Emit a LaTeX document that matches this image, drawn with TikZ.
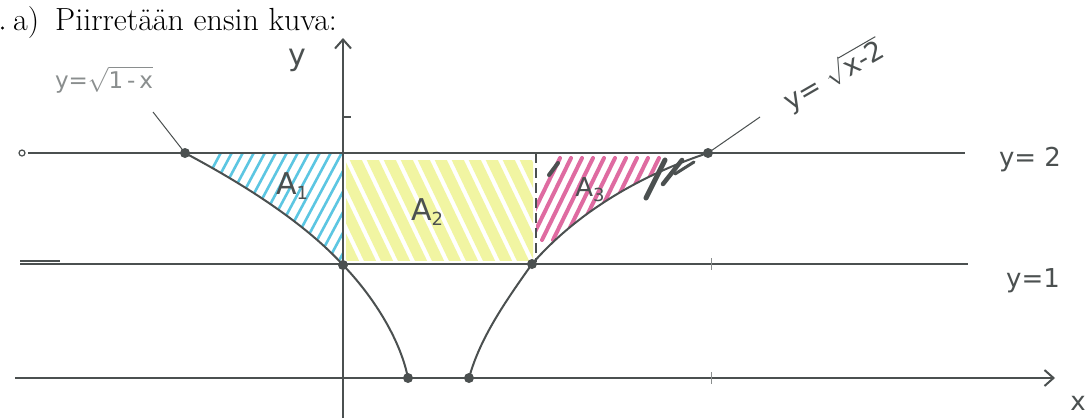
\documentclass[tikz,border=0pt]{standalone}
\usepackage{fontspec}
\newfontfamily\hand{DejaVu Sans}
\usetikzlibrary{arrows.meta}
\definecolor{pen}{HTML}{4B5050}
\definecolor{penlight}{HTML}{8A8E8E}
\definecolor{hcyan}{HTML}{5CC6E2}
\definecolor{hyellow}{HTML}{E4ED46}
\definecolor{hmag}{HTML}{D8468A}
\newcommand{\sub}[1]{\raisebox{-5pt}{\fontsize{18}{20}\selectfont #1}}
\begin{document}
\begin{tikzpicture}[x=1pt,y=-1pt,
  pline/.style={draw=pen,line width=2pt},
  thin line/.style={draw=pen,line width=1.2pt},
  dot/.style={circle,fill=pen,inner sep=0pt,minimum size=10pt},
  handlbl/.style={text=pen,font=\hand\fontsize{26}{28}\selectfont,inner sep=0pt},
  hatch/.style={line cap=round}]
\useasboundingbox (0,0) rectangle (1092,418);
\fill[white] (0,0) rectangle (1092,418);

% title
\node[anchor=base west,inner sep=0pt,font=\fontsize{32}{36}\selectfont] (title) at (13,30) {a)\enspace Piirretään ensin kuva:};
\fill[black] (2.5,28) circle (1.6pt);

% points
\coordinate (pA) at (185,153);
\coordinate (pB) at (343,265);
\coordinate (pC) at (408,378);
\coordinate (pD) at (469,378);
\coordinate (pE) at (532,264);
\coordinate (pF) at (708,153);

% hatching A1 (cyan)
\begin{scope}
\clip (pA) .. controls (232,178) and (300,218) .. (pB) -- (343,153) -- cycle;
\foreach \i in {0,...,22} {
  \draw[hatch,hcyan,line width=2.6pt] (150+\i*11,285) -- ++(75,-140);
}
\end{scope}

% hatching A2 (yellow)
\begin{scope}
\clip (346,160) rectangle (533,260);
\foreach \i in {0,...,14} {
  \draw[hatch,hyellow,opacity=0.5,line width=11pt] (300+\i*17,150) -- ++(55,115);
}
\end{scope}

% hatching A3 (magenta)
\begin{scope}
\clip (pE) .. controls (572,218) and (632,178) .. (pF) -- (536,153) -- (536,262) -- cycle;
\foreach \i in {0,...,9} {
  \draw[hatch,hmag,line width=4pt,opacity=0.8] (520+\i*11,240) -- ++(40,-82);
}
\end{scope}
% black strokes
\draw[hatch,pen,line width=4pt] (549,175) -- (558,163);
\draw[hatch,pen,line width=5pt] (646,198) -- (665,160);
\draw[hatch,pen,line width=4.5pt] (663,184) -- (682,160);
\draw[hatch,pen,line width=3pt] (675,174) -- (694,162);

% horizontal lines
\draw[pline] (28,153) -- (965,153);
\draw[pen,line width=1.2pt] (22,153) circle (3pt);
\draw[pline] (20,264) -- (968,264);
\draw[pen,line width=1.2pt] (20,261) -- (60,261);
% x-axis
\draw[pline,-{Straight Barb[length=9pt,width=16pt,line width=2pt]}] (15,378) -- (1055,378);
% y-axis
\draw[pline,-{Straight Barb[length=9pt,width=16pt,line width=2pt]}] (343,418) -- (343,38);
\draw[thin line] (343,117) -- (351,117);
\draw[penlight,line width=0.8pt] (711,258) -- (711,270);
\draw[penlight,line width=0.8pt] (711,372) -- (711,384);

% dashed vertical
\draw[pen,line width=2pt,dash pattern=on 10pt off 5pt] (536,153) -- (536,262);

% curves
\draw[pline] (pA) .. controls (232,178) and (300,218) .. (pB);
\draw[pline] (pB) .. controls (372,295) and (400,338) .. (pC);
\draw[pline] (pD) .. controls (480,338) and (505,302) .. (pE);
\draw[pline] (pE) .. controls (572,218) and (632,178) .. (pF);

% dots
\foreach \p in {pA,pB,pC,pD,pE,pF} { \node[dot] at (\p) {}; }

% callouts
\coordinate (cL) at (153,112);
\coordinate (cR) at (760,117);
\draw[pen,line width=1pt] (cL) -- (pA);
\draw[pen,line width=1pt] (pF) -- (cR);
\node[text=penlight,inner sep=0pt,font=\hand\fontsize{23}{26}\selectfont] (lblL) at (104,80) {y=$\sqrt{\hbox{\hand 1{\,}-{\,}x}}$};
\node[text=pen,inner sep=0pt,font=\hand\fontsize{27}{30}\selectfont,rotate=30] (lblR) at (834,76) {y= $\sqrt{\hbox{\hand x-2}}$};

% axis and line labels
\node[handlbl,font=\hand\fontsize{30}{32}\selectfont] (ylbl) at (297,60) {y};
\node[handlbl] (xlbl) at (1078,403) {x};
\node[handlbl] (y2) at (1030,160) {y= 2};
\node[handlbl] (y1) at (1033,281) {y=1};

% area labels
\node[handlbl,font=\hand\fontsize{30}{32}\selectfont] (A1) at (292,186) {A\sub{1}};
\node[handlbl,font=\hand\fontsize{30}{32}\selectfont] (A2) at (427,212) {A\sub{2}};
\node[handlbl,font=\hand\fontsize{26}{30}\selectfont] (A3) at (590,190) {A\sub{3}};
\end{tikzpicture}
\end{document}
